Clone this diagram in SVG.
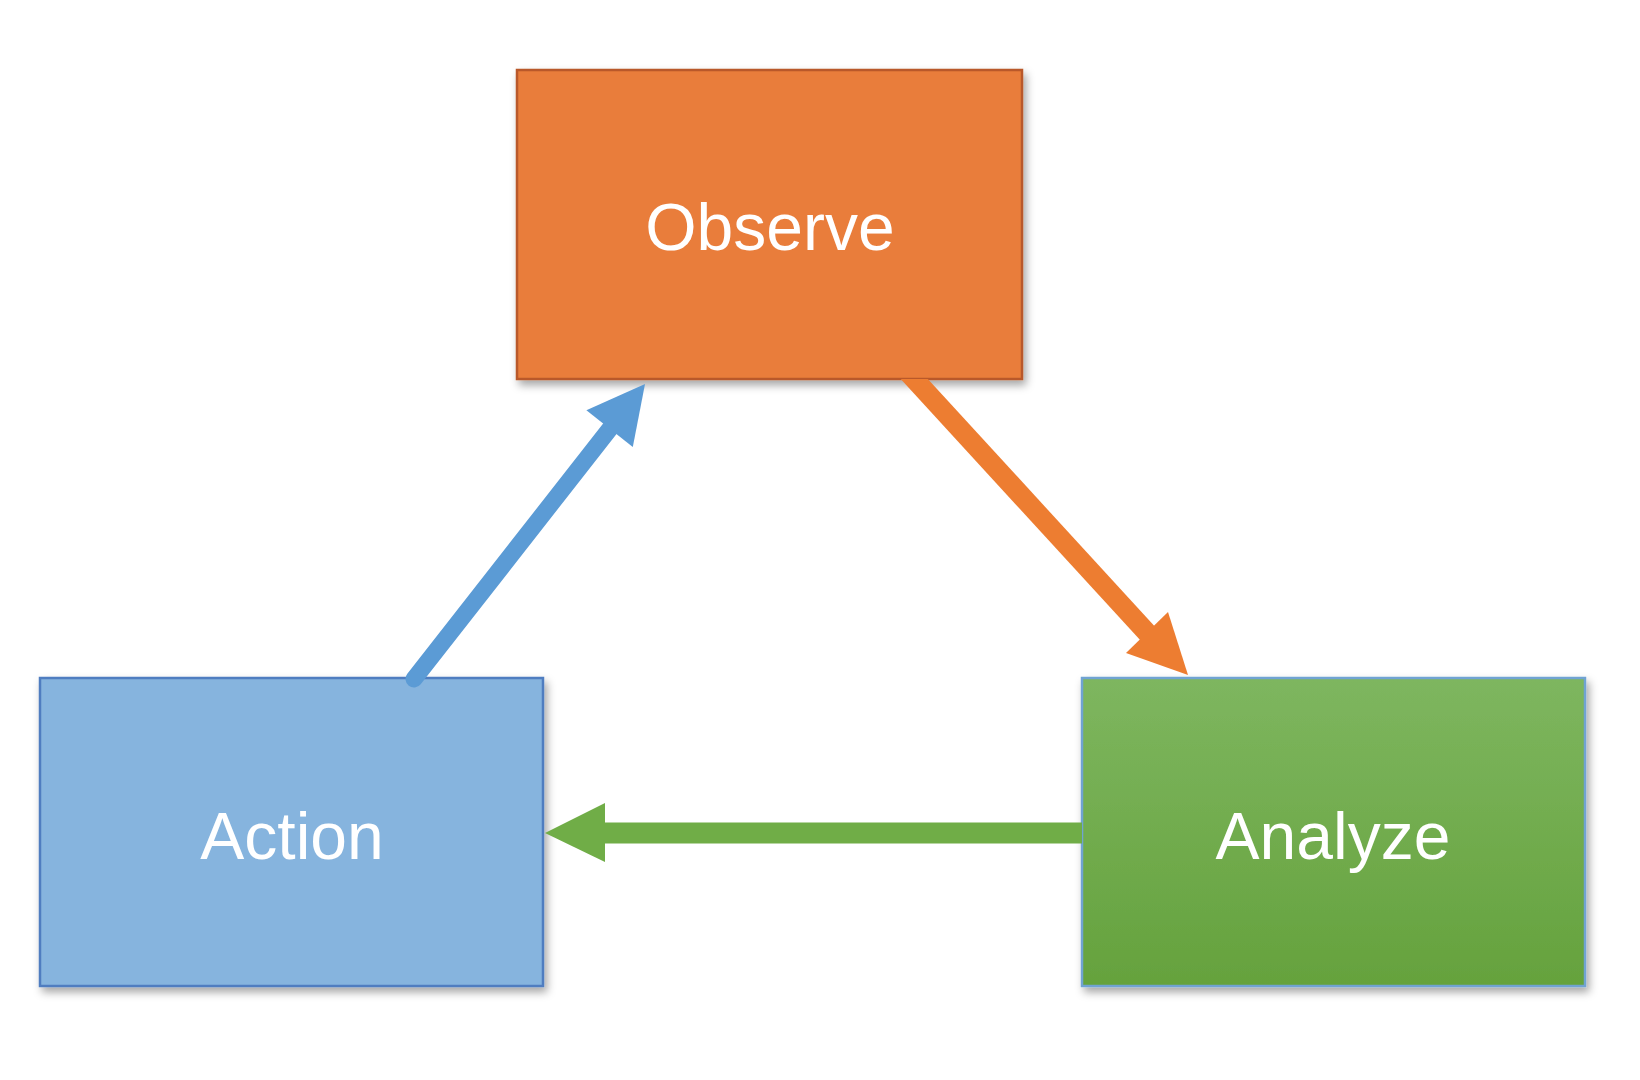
<svg xmlns="http://www.w3.org/2000/svg" width="1640" height="1080" viewBox="0 0 1640 1080">
  <defs>
    <filter id="shadow" x="-10%" y="-10%" width="125%" height="130%">
      <feDropShadow dx="3" dy="5" stdDeviation="4" flood-color="#000" flood-opacity="0.35"/>
    </filter>
    <linearGradient id="greenGrad" x1="0" y1="0" x2="0" y2="1">
      <stop offset="0" stop-color="#7EB65F"/>
      <stop offset="1" stop-color="#65A23D"/>
    </linearGradient>
    <clipPath id="belowObserve">
      <rect x="0" y="379" width="1640" height="701"/>
    </clipPath>
  </defs>
  <style>
    .label { font-family: "Liberation Sans", Arial, sans-serif; font-size: 66px; fill: #FFFFFF; text-anchor: middle; }
    .box { filter: url(#shadow); stroke-width: 2.5; }
    .conn { fill: none; }
    .blue { stroke: #5B9BD5; }
    .orange { stroke: #ED7D31; }
    .green { stroke: #70AD47; }
    .hblue { fill: #5B9BD5; }
    .horange { fill: #ED7D31; }
    .hgreen { fill: #70AD47; }
  </style>
  <rect x="0" y="0" width="1640" height="1080" fill="#FFFFFF"/>

  <g id="observe">
    <rect class="box" x="517" y="70" width="505" height="309" fill="#E97D3B" stroke="#B9592A"/>
    <text class="label" x="770" y="250">Observe</text>
  </g>

  <g id="action">
    <rect class="box" x="40" y="678" width="503" height="308" fill="#86B4DE" stroke="#4F7DC0"/>
    <text class="label" x="292" y="859">Action</text>
  </g>

  <g id="analyze">
    <rect class="box" x="1082" y="678" width="503" height="308" fill="url(#greenGrad)" stroke="#6FA3D2" stroke-width="1.5"/>
    <text class="label" x="1333" y="859">Analyze</text>
  </g>

  <g id="connectors">
    <path class="conn blue" d="M414,679 L612,426" stroke-width="17" stroke-linecap="round"/>
    <polygon class="hblue" points="645,384 632.8,447.1 586.4,410.3"/>
    <path class="conn orange" d="M906,370 L1150,636" stroke-width="20" clip-path="url(#belowObserve)"/>
    <polygon class="horange" points="1188,675 1126,653 1168,612"/>
    <path class="conn green" d="M1082,833 L600,833" stroke-width="21"/>
    <polygon class="hgreen" points="545,833 605,803 605,862"/>
  </g>
</svg>
